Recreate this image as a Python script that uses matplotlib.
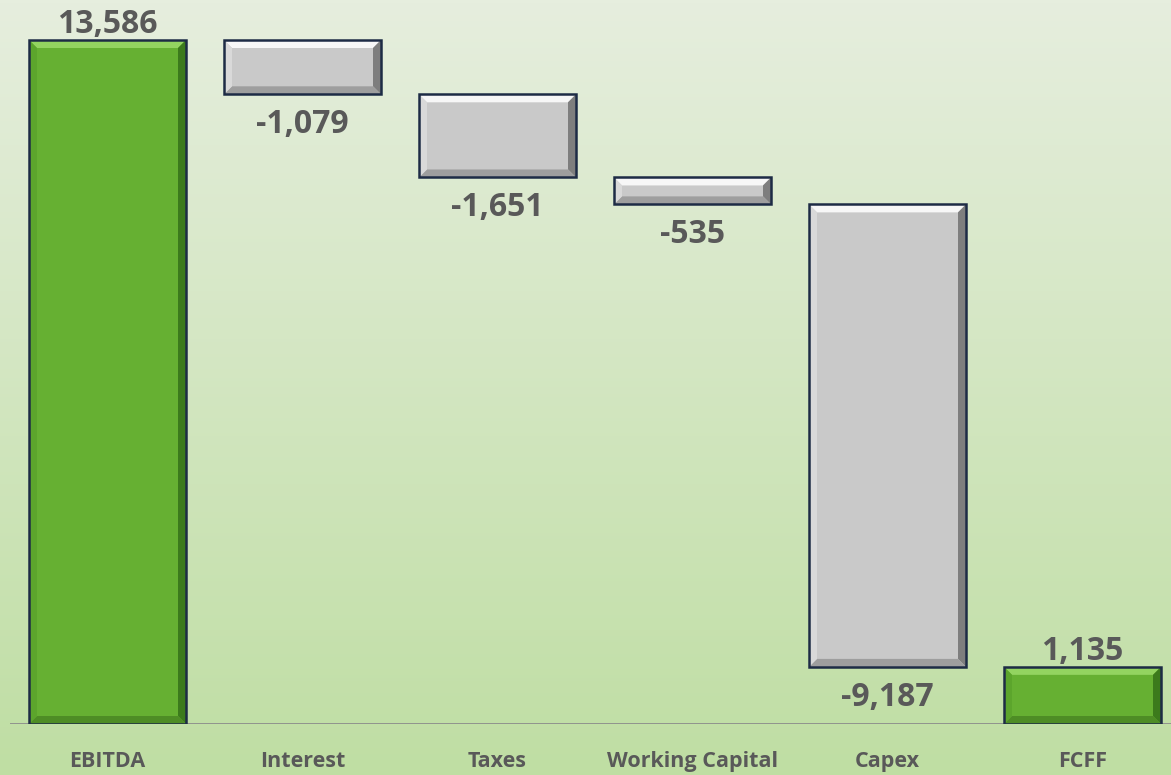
import matplotlib
matplotlib.use("Agg")
import matplotlib.pyplot as plt
import numpy as np
from matplotlib.patches import Polygon, Rectangle

categories = ["EBITDA", "Interest", "Taxes", "Working Capital", "Capex", "FCFF"]
values = [13586, -1079, -1651, -535, -9187, 1135]
labels = ["13,586", "-1,079", "-1,651", "-535", "-9,187", "1,135"]
is_total = [True, False, False, False, False, True]

W, H = 1171, 775
fig = plt.figure(figsize=(W / 100, H / 100), dpi=100)

# background gradient
bg = fig.add_axes([0, 0, 1, 1], zorder=-10)
top = np.array([230, 238, 222]) / 255
bot = np.array([191, 222, 163]) / 255
t = np.linspace(0, 1, 256)[:, None]
grad = top[None, :] * (1 - t) + bot[None, :] * t
bg.imshow(grad[:, None, :], aspect="auto", extent=[0, 1, 0, 1])
bg.axis("off")

ax_left = 10 / W
ax_bottom = 51 / H
ax_w = 6 * 195 / W
ax_h = 1 - ax_bottom
ax = fig.add_axes([ax_left, ax_bottom, ax_w, ax_h])
ax.patch.set_alpha(0)
ymax = 724 / 684 * 13586
ax.set_xlim(-0.5, 5.5)
ax.set_ylim(0, ymax)
for s in ax.spines.values():
    s.set_visible(False)
ax.set_xticks([])
ax.set_yticks([])
ax.axhline(0, color="#8C8C8C", lw=2, zorder=1)

# waterfall geometry
bottoms, heights = [], []
running = 0
for v, tot in zip(values, is_total):
    if tot:
        bottoms.append(0)
        heights.append(v)
        running = v
    else:
        bottoms.append(running + v)
        heights.append(-v)
        running += v

width = 157 / 195
px_x = 195.0
px_y = 684 / 13586
bev = 8
bx = bev / px_x
by = bev / px_y

green = dict(face="#66B032", top="#93D460", right="#3C7A1C", bottom="#4E8D25", left="#5CA52C")
gray = dict(face="#C9C9C9", top="#F7F7F7", right="#7E7E7E", bottom="#9E9E9E", left="#D9D9D9")
edge = "#1D2B45"

for i, (b, h, tot) in enumerate(zip(bottoms, heights, is_total)):
    c = green if tot else gray
    x0, x1 = i - width / 2, i + width / 2
    y0, y1 = b, b + h
    ax.add_patch(Rectangle((x0, y0), width, h, facecolor=c["face"], edgecolor="none", zorder=2))
    ix0, ix1, iy0, iy1 = x0 + bx, x1 - bx, y0 + by, y1 - by
    ax.add_patch(Polygon([(x0, y1), (x1, y1), (ix1, iy1), (ix0, iy1)], closed=True,
                         facecolor=c["top"], edgecolor="none", zorder=3))
    ax.add_patch(Polygon([(x1, y1), (x1, y0), (ix1, iy0), (ix1, iy1)], closed=True,
                         facecolor=c["right"], edgecolor="none", zorder=3))
    ax.add_patch(Polygon([(x0, y0), (x1, y0), (ix1, iy0), (ix0, iy0)], closed=True,
                         facecolor=c["bottom"], edgecolor="none", zorder=3))
    ax.add_patch(Polygon([(x0, y0), (x0, y1), (ix0, iy1), (ix0, iy0)], closed=True,
                         facecolor=c["left"], edgecolor="none", zorder=3))
    ax.add_patch(Rectangle((x0, y0), width, h, facecolor="none", edgecolor=edge, lw=1.8, zorder=4))

    if values[i] >= 0:
        ax.annotate(labels[i], (i, y1), xytext=(0, 5), textcoords="offset points",
                    ha="center", va="baseline", fontsize=23, fontweight="bold",
                    family="Open Sans", color="#595959", zorder=5)
    else:
        ax.annotate(labels[i], (i, y0), xytext=(0, -28), textcoords="offset points",
                    ha="center", va="baseline", fontsize=23, fontweight="bold",
                    family="Open Sans", color="#595959", zorder=5)

    ax.annotate(categories[i], (i, 0), xytext=(0, -27), textcoords="offset points",
                ha="center", va="center", fontsize=15.5, fontweight="bold",
                family="Open Sans", color="#595959", annotation_clip=False)

fig.savefig("out.png", dpi=100)
